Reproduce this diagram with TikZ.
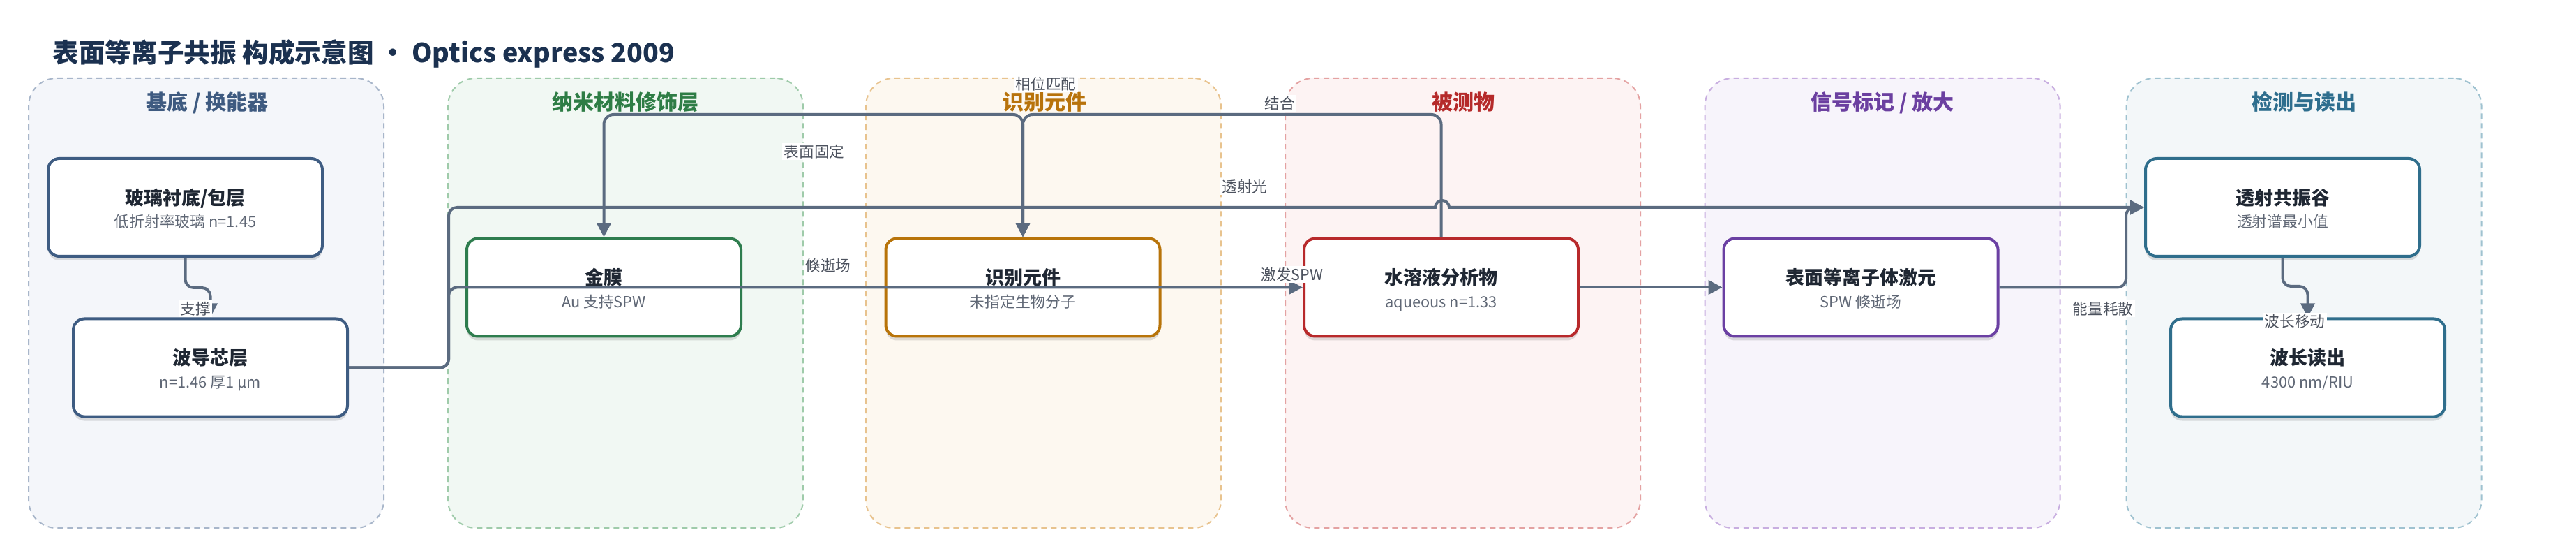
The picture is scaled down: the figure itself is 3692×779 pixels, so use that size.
\documentclass[tikz,border=0pt]{standalone}
\usepackage{fontspec}
\setmainfont{Noto Sans CJK SC}
\usetikzlibrary{arrows.meta,shadows}
\definecolor{edgec}{HTML}{5B6B80}
\definecolor{titlec}{HTML}{1B3150}
\definecolor{ntext}{HTML}{1F2733}
\definecolor{stext}{HTML}{5F6775}
\definecolor{bA}{HTML}{3E5C82}
\definecolor{bB}{HTML}{2E7D4E}
\definecolor{bC}{HTML}{B8740A}
\definecolor{bD}{HTML}{B8292B}
\definecolor{bE}{HTML}{6B40A3}
\definecolor{bF}{HTML}{2F6E8C}
\definecolor{tA}{HTML}{3E5A80}
\definecolor{tB}{HTML}{2E7D45}
\definecolor{tC}{HTML}{B8730B}
\definecolor{tD}{HTML}{B52A2A}
\definecolor{tE}{HTML}{6B3FA0}
\definecolor{tF}{HTML}{2E6E8E}
\definecolor{fA}{HTML}{F4F6FA}
\definecolor{fB}{HTML}{F1F8F3}
\definecolor{fC}{HTML}{FDF8F0}
\definecolor{fD}{HTML}{FDF3F3}
\definecolor{fE}{HTML}{F7F4FB}
\definecolor{fF}{HTML}{F3F7F9}
\definecolor{dA}{HTML}{A8B6CA}
\definecolor{dB}{HTML}{9FCBAA}
\definecolor{dC}{HTML}{E8C38E}
\definecolor{dD}{HTML}{E4A2A2}
\definecolor{dE}{HTML}{C8AEE0}
\definecolor{dF}{HTML}{9FC2D0}
\tikzset{
  grpbox/.style={draw=#1, dash pattern=on 2pt off 1.5pt, line width=0.5pt, rounded corners=10pt,
    minimum width=127.25pt, minimum height=161pt, inner sep=0pt},
  grptitle/.style={text=#1, font=\bfseries\fontsize{7.5pt}{9pt}\selectfont, anchor=base, inner sep=0pt},
  nbox/.style={draw=#1, fill=white, line width=1pt, rounded corners=4pt,
    minimum width=98.25pt, minimum height=35pt, inner sep=0pt,
    drop shadow={shadow xshift=0pt, shadow yshift=-1.5pt, opacity=0.12, fill=black}},
  ntitle/.style={text=ntext, font=\bfseries\fontsize{6.75pt}{8pt}\selectfont, anchor=base, inner sep=0pt},
  nsub/.style={text=stext, font=\fontsize{5.45pt}{6.5pt}\selectfont, anchor=base, inner sep=0pt},
  edge/.style={draw=edgec, line width=1pt, rounded corners=3pt},
  tip/.style={-{Triangle[length=5pt,width=5pt]}},
  tips/.style={{Triangle[length=5pt,width=5pt]}-{Triangle[length=5pt,width=5pt]}},
  elabel/.style={fill=white, text=stext!80!black, font=\fontsize{5.4pt}{6.5pt}\selectfont, inner sep=0.6pt}
}
\begin{document}
\begin{tikzpicture}[x=0.25pt,y=-0.25pt]
\useasboundingbox (0,0) rectangle (3692,779);
\fill[white] (0,0) rectangle (3692,779);

% title
\node[anchor=base west, inner sep=0pt, text=titlec, font=\bfseries\fontsize{9.4pt}{11pt}\selectfont] (title) at (75,90) {表面等离子共振 构成示意图 • Optics express 2009};

% groups
\node[grpbox=dA, fill=fA] (g1) at (295.5,434) {};
\node[grpbox=dB, fill=fB] (g2) at (896.5,434) {};
\node[grpbox=dC, fill=fC] (g3) at (1495.5,434) {};
\node[grpbox=dD, fill=fD] (g4) at (2096.5,434) {};
\node[grpbox=dE, fill=fE] (g5) at (2698,434) {};
\node[grpbox=dF, fill=fF] (g6) at (3302,434) {};
\node[grptitle=tA] (g1t) at (297,158) {基底 / 换能器};
\node[grptitle=tB] (g2t) at (896,158) {纳米材料修饰层};
\node[grptitle=tC] (g3t) at (1497,158) {识别元件};
\node[grptitle=tD] (g4t) at (2097,158) {被测物};
\node[grptitle=tE] (g5t) at (2698,158) {信号标记 / 放大};
\node[grptitle=tF] (g6t) at (3302,158) {检测与读出};

% nodes
\node[nbox=bA] (glass) at (265.5,297) {};
\node[ntitle] (glassT) at ([yshift=0.875pt]glass.center) {玻璃衬底/包层};
\node[nsub] (glassS) at ([yshift=-7.25pt]glass.center) {低折射率玻璃 n=1.45};

\node[nbox=bA] (wg) at (301.5,526.5) {};
\node[ntitle] (wgT) at ([yshift=0.875pt]wg.center) {波导芯层};
\node[nsub] (wgS) at ([yshift=-7.25pt]wg.center) {n=1.46 厚1 μm};

\node[nbox=bB] (gold) at (865.5,411.5) {};
\node[ntitle] (goldT) at ([yshift=0.875pt]gold.center) {金膜};
\node[nsub] (goldS) at ([yshift=-7.25pt]gold.center) {Au 支持SPW};

\node[nbox=bC] (recog) at (1466,411.5) {};
\node[ntitle] (recogT) at ([yshift=0.875pt]recog.center) {识别元件};
\node[nsub] (recogS) at ([yshift=-7.25pt]recog.center) {未指定生物分子};

\node[nbox=bD] (analyte) at (2065.5,411.5) {};
\node[ntitle] (analyteT) at ([yshift=0.875pt]analyte.center) {水溶液分析物};
\node[nsub] (analyteS) at ([yshift=-7.25pt]analyte.center) {aqueous n=1.33};

\node[nbox=bE] (spp) at (2667,411.5) {};
\node[ntitle] (sppT) at ([yshift=0.875pt]spp.center) {表面等离子体激元};
\node[nsub] (sppS) at ([yshift=-7.25pt]spp.center) {SPW 倏逝场};

\node[nbox=bF] (trans) at (3271.5,297) {};
\node[ntitle] (transT) at ([yshift=0.875pt]trans.center) {透射共振谷};
\node[nsub] (transS) at ([yshift=-7.25pt]trans.center) {透射谱最小值};

\node[nbox=bF] (wl) at (3307.5,526.5) {};
\node[ntitle] (wlT) at ([yshift=0.875pt]wl.center) {波长读出};
\node[nsub] (wlS) at ([yshift=-7.25pt]wl.center) {4300 nm/RIU};

% connectors
\draw[edge,tip] (glass.south) -- (glass.south |- 0,412) -- (wg.north |- 0,412) -- (wg.north);
\draw[edge,tip] (trans.south) -- (trans.south |- 0,410) -- (wl.north |- 0,410) -- (wl.north);
\draw[edge,tip] (wg.east) -- (643,526.5) -- (643,297) [sharp corners] -- (2057,297)
   arc[start angle=180, end angle=0, radius=2.5pt] -- (trans.west);
\draw[edge,tip] (wg.east) -- (643,526.5) -- (643,411.5) -- (analyte.west);
\draw[edge,tip] (analyte.east) -- (spp.west);
\draw[edge,tip] (spp.east) -- (3047,411.5) -- (3047,297) -- (trans.west);
\draw[edge,tips,rounded corners=3.5pt] (gold.north) -- (gold.north |- 0,164) -- (recog.north |- 0,164) -- (recog.north);
\draw[edge,tip,rounded corners=3.5pt] (analyte.north) -- (analyte.north |- 0,164) -- (recog.north |- 0,164) -- (recog.north);

% edge labels
\node[elabel] (l1) at (1499,120) {相位匹配};
\node[elabel] (l2) at (1834,148) {结合};
\node[elabel] (l3) at (1167,217) {表面固定};
\node[elabel] (l4) at (1784,267) {透射光};
\node[elabel] (l5) at (1187,380) {倏逝场};
\node[elabel] (l6) at (1852,393) {激发SPW};
\node[elabel] (l7) at (280,442) {支撑};
\node[elabel] (l8) at (3014,442) {能量耗散};
\node[elabel] (l9) at (3289,460) {波长移动};
\end{tikzpicture}
\end{document}
